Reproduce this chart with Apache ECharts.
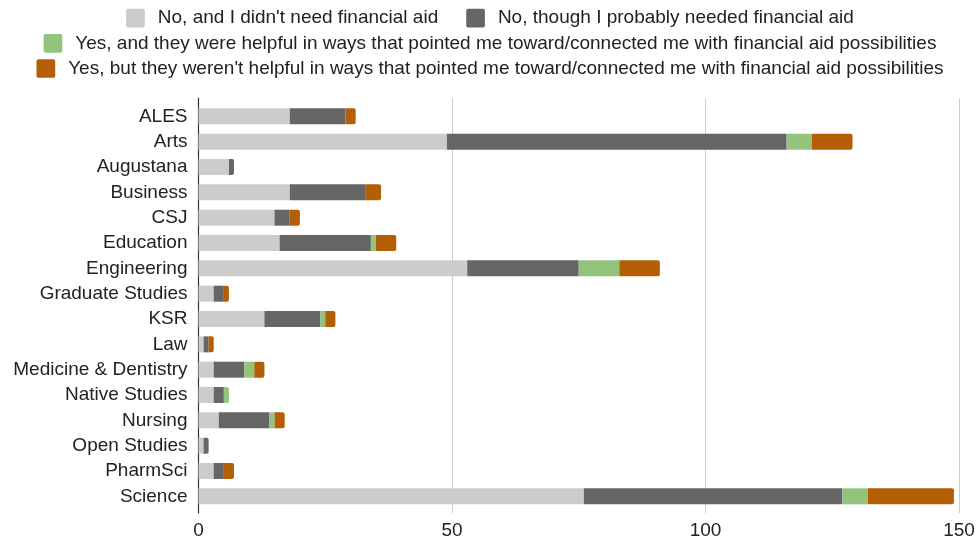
<!DOCTYPE html>
<html>
<head>
<meta charset="utf-8">
<script src="https://cdn.jsdelivr.net/npm/echarts@6/dist/echarts.min.js"></script>
<style>html,body{margin:0;padding:0;background:#fff}#c{width:980px;height:542px}</style>
</head>
<body>
<div id="c"></div>
<script>
const categories = ["ALES","Arts","Augustana","Business","CSJ","Education","Engineering","Graduate Studies","KSR","Law","Medicine & Dentistry","Native Studies","Nursing","Open Studies","PharmSci","Science"];
const seriesNames = [
  "No, and I didn't need financial aid",
  "No, though I probably needed financial aid",
  "Yes, and they were helpful in ways that pointed me toward/connected me with financial aid possibilities",
  "Yes, but they weren't helpful in ways that pointed me toward/connected me with financial aid possibilities"
];
const noNeed        = [18,49,6,18,15,16,53,3,13,1,3,3,4,1,3,76];
const neededNo      = [11,67,1,15,3,18,22,2,11,1,6,2,10,1,2,51];
const yesHelpful    = [0,5,0,0,0,1,8,0,1,0,2,1,1,0,0,5];
const yesNotHelpful = [2,8,0,3,2,4,8,1,2,1,2,0,2,0,2,17];
const xTicks = [0,50,100,150];

const colors = ['#cccccc','#666666','#93c47d','#b45f06'];
const allData = [noNeed, neededNo, yesHelpful, yesNotHelpful];
const FONT = '"Liberation Sans", Arial, sans-serif';
const FS = 19;

function buildData(si){
  return allData[si].map((v,i)=>{
    let last = -1;
    for(let k=0;k<allData.length;k++){ if(allData[k][i]>0) last=k; }
    const item = {value:v};
    if(si===last) item.itemStyle = {borderRadius:[0,2,2,0]};
    return item;
  });
}

const chart = echarts.init(document.getElementById('c'), null, {renderer:'canvas'});
const legendBase = {
  padding:0, itemWidth:18.7, itemHeight:18.7, itemGap:28,
  icon:'path://M2,0 H17 Q19,0 19,2 V17 Q19,19 17,19 H2 Q0,19 0,17 V2 Q0,0 2,0 Z',
  textStyle:{fontFamily:FONT, fontSize:FS, color:'#222', padding:[0,0,0,8]},
  left:'center', selectedMode:true
};
chart.setOption({
  animation:false,
  legend:[
    Object.assign({}, legendBase, {top:8.6, data:[seriesNames[0],seriesNames[1]]}),
    Object.assign({}, legendBase, {top:33.8, data:[seriesNames[2]]}),
    Object.assign({}, legendBase, {top:59, data:[seriesNames[3]]})
  ],
  grid:[
    {left:198.5, right:21, top:98, bottom:29},
    {left:198.5, right:21, top:103.7, bottom:33}
  ],
  xAxis:[
    {type:'value', gridIndex:0, min:xTicks[0], max:xTicks[xTicks.length-1], interval:50,
     axisLine:{show:false}, axisTick:{show:false},
     splitLine:{show:true, lineStyle:{color:'#cccccc', width:1}},
     axisLabel:{fontFamily:FONT, fontSize:FS, color:'#222', margin:8}},
    {type:'value', gridIndex:1, min:xTicks[0], max:xTicks[xTicks.length-1], interval:50,
     axisLine:{show:false}, axisTick:{show:false}, splitLine:{show:false}, axisLabel:{show:false}}
  ],
  yAxis:[
    {type:'value', gridIndex:0, min:0, max:1, axisLabel:{show:false}, axisTick:{show:false},
     splitLine:{show:false}, axisLine:{show:true, lineStyle:{color:'#333', width:1.2}}},
    {type:'category', gridIndex:1, data:categories, inverse:true,
     axisLine:{show:false}, axisTick:{show:false},
     axisLabel:{fontFamily:FONT, fontSize:FS, color:'#222', margin:11}}
  ],
  series: seriesNames.map((n,si)=>({
    name:n, type:'bar', stack:'total', xAxisIndex:1, yAxisIndex:1,
    barWidth:16, itemStyle:{color:colors[si]}, data:buildData(si)
  }))
});
</script>
</body>
</html>
